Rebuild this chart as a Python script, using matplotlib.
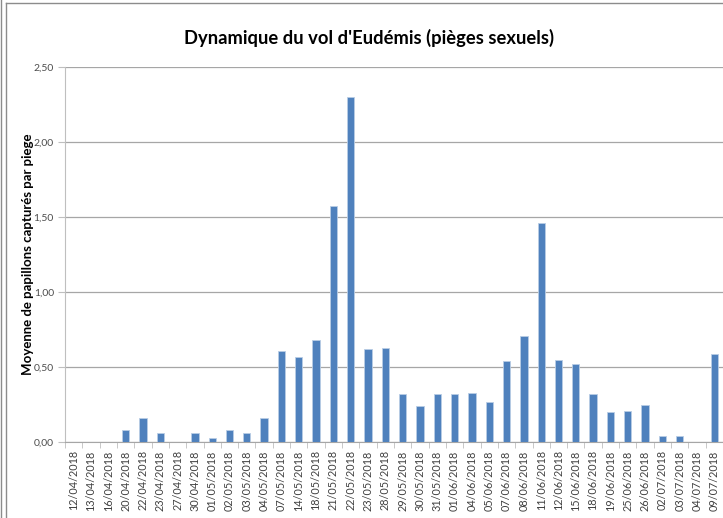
import matplotlib
matplotlib.use("Agg")
from matplotlib import pyplot as plt
from matplotlib.lines import Line2D

dates = ["12/04/2018", "13/04/2018", "16/04/2018", "20/04/2018", "22/04/2018",
         "23/04/2018", "27/04/2018", "30/04/2018", "01/05/2018", "02/05/2018",
         "03/05/2018", "04/05/2018", "07/05/2018", "14/05/2018", "18/05/2018",
         "21/05/2018", "22/05/2018", "23/05/2018", "28/05/2018", "29/05/2018",
         "30/05/2018", "31/05/2018", "01/06/2018", "04/06/2018", "05/06/2018",
         "07/06/2018", "08/06/2018", "11/06/2018", "12/06/2018", "15/06/2018",
         "18/06/2018", "19/06/2018", "25/06/2018", "26/06/2018", "02/07/2018",
         "03/07/2018", "04/07/2018", "09/07/2018"]
moyenne = [0, 0, 0, 0.08, 0.16, 0.06, 0, 0.06, 0.03, 0.08,
           0.06, 0.16, 0.61, 0.57, 0.68, 1.57, 2.30, 0.62, 0.63, 0.32,
           0.24, 0.32, 0.32, 0.33, 0.27, 0.54, 0.71, 1.46, 0.55, 0.52,
           0.32, 0.20, 0.21, 0.25, 0.04, 0.04, 0, 0.59]
yticks = [0, 0.5, 1.0, 1.5, 2.0, 2.5]

plt.rcParams['font.family'] = ['Lato', 'DejaVu Sans']

fig = plt.figure(figsize=(7.23, 5.18), dpi=100)
ax = fig.add_axes([0.0899, 0.1467, 0.9101, 0.7240])

x = list(range(len(dates)))
ax.bar(x, moyenne, width=0.42, color='#4f81bd', edgecolor='#b9cde5', linewidth=0.6, zorder=3)

ax.set_xlim(-0.5, len(dates) - 0.5)
ax.set_ylim(0, 2.5)
ax.set_yticks(yticks)
ax.set_yticklabels([f"{v:.2f}".replace('.', ',') for v in yticks], fontsize=7.5, color='#4d4d4d')
ax.yaxis.grid(True, color='#a6a6a6', linewidth=0.9, zorder=0)

ax.set_xticks(x)
ax.set_xticklabels(dates, rotation=90, fontsize=7.8, color='#404040')
ax.tick_params(axis='x', length=0, pad=6)
ax.set_xticks([i - 0.5 for i in x] + [len(dates) - 0.5], minor=True)
ax.tick_params(axis='x', which='minor', length=4, color='#bfbfbf', direction='out')
ax.tick_params(axis='y', length=5, color='#bfbfbf', pad=3)

for side in ['top', 'right']:
    ax.spines[side].set_visible(False)
ax.spines['left'].set_color('#bfbfbf')
ax.spines['bottom'].set_color('#a6a6a6')

ax.set_ylabel("Moyenne de papillons capturés par piege", fontsize=9.5, fontweight='bold', labelpad=0)
fig.text(0.510, 0.927, "Dynamique du vol d'Eudémis (pièges sexuels)", ha='center', va='center',
         fontsize=13.2, fontweight='bold')

# cadre du graphique
fig.add_artist(Line2D([0.008, 0.008], [0, 0.995], color='#8c8c8c', linewidth=1))
fig.add_artist(Line2D([0.008, 1.0], [0.995, 0.995], color='#8c8c8c', linewidth=1))
fig.add_artist(Line2D([0.002, 0.002], [0, 1], color='#8c8c8c', linewidth=1))

plt.savefig('out.png', dpi=100)
